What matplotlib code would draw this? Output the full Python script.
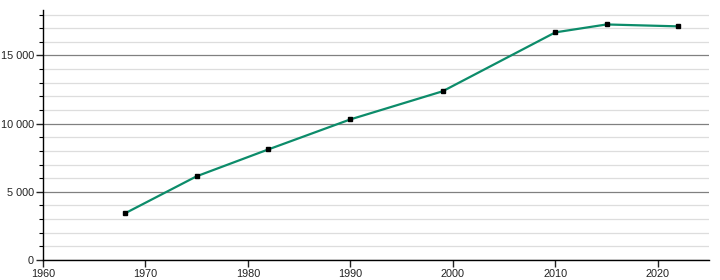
import matplotlib.pyplot as plt
from matplotlib.ticker import MultipleLocator, FuncFormatter

years = [1968, 1975, 1982, 1990, 1999, 2010, 2015, 2022]
population = [3420, 6140, 8110, 10310, 12370, 16690, 17270, 17130]

plt.rcParams['font.family'] = ['Liberation Sans', 'DejaVu Sans']

fig = plt.figure(figsize=(7.2, 2.8), dpi=100)
ax = fig.add_axes([43 / 720, 20 / 280, 666 / 720, 250 / 280])

# grid lines
ax.yaxis.set_major_locator(MultipleLocator(5000))
ax.yaxis.set_minor_locator(MultipleLocator(1000))
ax.xaxis.set_major_locator(MultipleLocator(10))
ax.grid(True, which='minor', axis='y', color='#dddddd', linewidth=0.9)
ax.grid(True, which='major', axis='y', color='#808080', linewidth=0.9)
ax.set_axisbelow(True)

ax.plot(years, population, '-', color='#0c8c6a', linewidth=1.6, zorder=3)
ax.plot(years, population, 's', color='black', markersize=3.2, zorder=4)

ax.set_xlim(1960, 2025)
ax.set_ylim(0, 18330)

ax.yaxis.set_major_formatter(FuncFormatter(lambda v, p: f"{int(v):,}".replace(',', ' ')))

for s in ['top', 'right']:
    ax.spines[s].set_visible(False)
for s in ['left', 'bottom']:
    ax.spines[s].set_linewidth(1.0)

ax.tick_params(axis='both', which='major', labelsize=7.8, length=5, width=1.0, colors='#222222', pad=1.5)
ax.tick_params(axis='y', which='minor', length=3, width=0.8)

fig.savefig('out.png', dpi=100)
